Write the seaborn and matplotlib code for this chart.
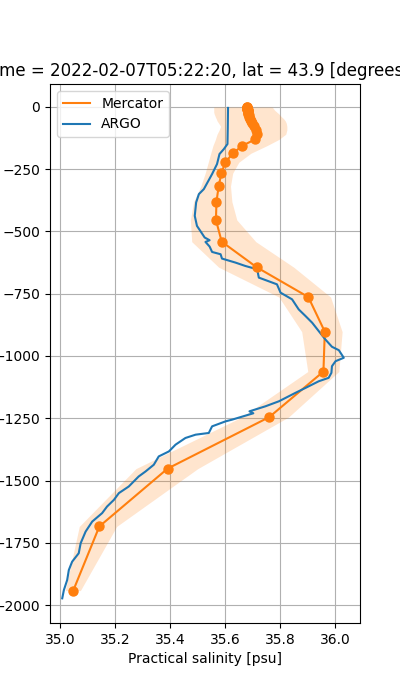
import numpy as np
import pandas as pd
import matplotlib
matplotlib.use("Agg")
import matplotlib.pyplot as plt
from matplotlib.ticker import MultipleLocator
import seaborn as sns

title_text = "time = 2022-02-07T05:22:20, lat = 43.9 [degrees]"
x_label = "Practical salinity [psu]"

# Mercator model profile (depth levels in m, negative downward)
merc_depth = [-0.494, -1.541, -2.646, -3.819, -5.078, -6.441, -7.930, -9.573,
              -11.405, -13.467, -15.810, -18.496, -21.599, -25.211, -29.445,
              -34.434, -40.344, -47.374, -55.764, -65.807, -77.854, -92.326,
              -109.729, -130.666, -155.851, -186.126, -222.475, -266.040,
              -318.127, -380.213, -453.938, -541.089, -643.567, -763.333,
              -902.339, -1062.440, -1245.291, -1452.251, -1684.284, -1941.893]
merc_sal = [35.679, 35.679, 35.679, 35.679, 35.680, 35.680, 35.680, 35.680,
            35.681, 35.681, 35.681, 35.682, 35.682, 35.683, 35.684,
            35.685, 35.686, 35.689, 35.693, 35.698, 35.705, 35.712,
            35.715, 35.708, 35.662, 35.628, 35.600, 35.586,
            35.576, 35.568, 35.566, 35.587, 35.714, 35.902,
            35.962, 35.957, 35.760, 35.390, 35.142, 35.047]
merc_low = [35.558, 35.558, 35.558, 35.558, 35.558, 35.558, 35.558, 35.558,
            35.558, 35.558, 35.558, 35.558, 35.558, 35.559, 35.560,
            35.562, 35.564, 35.567, 35.570, 35.576, 35.583, 35.578,
            35.570, 35.564, 35.555, 35.547, 35.538, 35.527,
            35.511, 35.485, 35.473, 35.478, 35.576, 35.795,
            35.878, 35.900, 35.660, 35.275, 35.069, 35.018]
merc_high = [35.770, 35.771, 35.772, 35.773, 35.774, 35.775, 35.776, 35.777,
             35.778, 35.780, 35.782, 35.785, 35.788, 35.792, 35.796,
             35.800, 35.805, 35.812, 35.818, 35.822, 35.824, 35.824,
             35.820, 35.795, 35.751, 35.693, 35.649, 35.627,
             35.619, 35.624, 35.642, 35.711, 35.849, 35.983,
             36.025, 36.013, 35.830, 35.500, 35.205, 35.073]

# ARGO float profile
argo_depth = [-4.0, -88.5, -148.9, -169.0, -189.1, -229.4, -269.6, -330.0,
              -350.1, -383.5, -437.4, -477.7, -504.2, -524.3, -535.2, -542.1,
              -560.6, -582.3, -591.5, -608.9, -625.0, -638.6, -651.9, -685.3,
              -712.3, -745.7, -772.6, -812.9, -839.8, -866.4, -900.2, -933.6,
              -963.0, -976.7, -1007.2, -1020.9, -1041.0, -1067.6, -1087.7,
              -1101.4, -1128.0, -1148.1, -1181.9, -1202.0, -1222.1, -1230.0,
              -1255.5, -1262.4, -1282.5, -1309.1, -1315.9, -1329.2, -1356.1,
              -1383.1, -1403.2, -1436.6, -1463.6, -1483.7, -1523.9, -1550.5,
              -1577.5, -1604.4, -1631.0, -1664.8, -1705.0, -1751.7, -1791.9,
              -1825.8, -1859.2, -1899.4, -1939.6, -1973.0]
argo_sal = [35.610, 35.609, 35.608, 35.595, 35.579, 35.570, 35.552, 35.522,
            35.504, 35.494, 35.489, 35.497, 35.513, 35.525, 35.543, 35.528,
            35.543, 35.552, 35.583, 35.588, 35.637, 35.673, 35.716, 35.722,
            35.788, 35.801, 35.843, 35.867, 35.892, 35.916, 35.940, 35.964,
            35.988, 36.013, 36.031, 36.001, 35.988, 35.986, 35.976,
            35.940, 35.892, 35.855, 35.795, 35.746, 35.688, 35.702,
            35.625, 35.601, 35.552, 35.540, 35.492, 35.455, 35.419,
            35.395, 35.358, 35.340, 35.310, 35.285, 35.249, 35.213,
            35.195, 35.170, 35.152, 35.116, 35.092, 35.074, 35.067,
            35.043, 35.031, 35.025, 35.013, 35.007]

orange = "#ff7f0e"
blue = "#1f77b4"

merc = pd.DataFrame({"depth": merc_depth, "sal": merc_sal})
argo = pd.DataFrame({"depth": argo_depth, "sal": argo_sal})

fig, ax = plt.subplots(figsize=(4, 7), dpi=100)
ax.fill_betweenx(merc_depth, merc_low, merc_high, color=orange, alpha=0.2,
                 linewidth=0)
sns.lineplot(data=merc, x="sal", y="depth", sort=False, estimator=None,
             color=orange, label="Mercator", ax=ax)
sns.scatterplot(data=merc, x="sal", y="depth", color=orange,
                edgecolor=orange, linewidth=1, s=42, legend=False,
                zorder=3, ax=ax)
sns.lineplot(data=argo, x="sal", y="depth", sort=False, estimator=None,
             color=blue, label="ARGO", ax=ax)

ax.set_xlim(34.9625, 36.09)
ax.set_ylim(-2072, 92)
ax.xaxis.set_major_locator(MultipleLocator(0.2))
ax.yaxis.set_major_locator(MultipleLocator(250))
ax.grid(True)
ax.set_axisbelow(True)
ax.set_xlabel(x_label)
ax.set_ylabel("")
ax.set_title(title_text, x=0.48)
ax.legend(loc="upper left")
fig.savefig("out.png", dpi=100)
